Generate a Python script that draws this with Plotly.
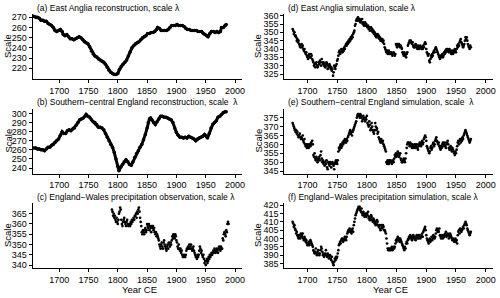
import plotly.graph_objects as go

# ---------------- data ----------------
# (a) East Anglia reconstruction (line)
years_a = [1656,1660,1663,1666,1669,1672,1675,1678,1681,1684,1687,1690,1693,1696,1699,1702,1705,1707,1710,1713,1716,1719,1722,1725,1728,1731,1734,1737,1740,1743,1746,1749,1752,1755,1758,1761,1764,1767,1770,1773,1776,1779,1782,1785,1788,1791,1794,1797,1800,1803,1806,1809,1812,1815,1818,1821,1824,1827,1830,1833,1836,1839,1842,1845,1848,1851,1854,1857,1860,1863,1866,1868,1871,1874,1877,1880,1883,1886,1889,1892,1895,1898,1901,1904,1907,1910,1913,1916,1919,1922,1925,1928,1931,1934,1937,1940,1943,1946,1949,1952,1954,1957,1960,1963,1966,1969,1972,1975,1977,1980,1983,1985]
vals_a = [271,270,270,269,267,267,266,266,264,263,262,260,257,256,257,258,256,253,252,253,251,249,249,248,249,250,251,250,248,246,245,244,241,237,234,232,231,229,228,227,226,224,221,218,216,215,214,214,215,219,222,224,226,228,232,236,240,242,244,245,246,248,250,251,252,254,254,255,255,256,258,260,259,257,257,257,257,258,260,262,262,262,263,262,262,262,261,259,258,258,257,257,257,257,256,256,256,254,253,252,251,254,256,256,255,256,255,256,260,260,262,263]

# (b) Southern-central England reconstruction (line)
years_b = [1656,1660,1663,1666,1669,1672,1675,1678,1681,1684,1687,1690,1693,1696,1699,1702,1705,1708,1711,1714,1717,1720,1723,1726,1729,1732,1735,1738,1741,1744,1746,1749,1752,1755,1758,1761,1764,1767,1770,1773,1776,1779,1782,1785,1788,1791,1794,1797,1800,1802,1805,1808,1811,1814,1817,1820,1823,1826,1829,1832,1835,1838,1841,1844,1847,1850,1852,1854,1856,1858,1861,1864,1867,1870,1873,1876,1879,1882,1885,1888,1891,1894,1897,1900,1903,1906,1909,1912,1915,1918,1921,1924,1927,1930,1933,1936,1939,1942,1945,1948,1951,1953,1956,1959,1962,1965,1968,1971,1974,1977,1980,1983,1985]
vals_b = [262,262,261,261,260,260,259,261,263,263,265,266,268,270,272,276,280,278,278,281,282,281,283,284,287,290,293,294,295,297,299,297,296,293,291,290,288,285,285,284,282,278,274,270,266,263,257,250,242,237,241,244,247,249,247,244,243,247,252,256,259,263,266,271,277,284,290,294,295,293,290,288,291,294,297,297,296,296,295,294,293,290,284,279,276,274,274,273,274,273,275,274,273,272,270,272,273,274,275,277,275,273,278,284,288,290,292,296,297,299,301,302,302]

# (c) England-Wales precipitation observation, annual 1790-1989
start_c = 1790
vals_c = [367,366,364,365,363,364,362,361,363,361,
          360,362,365,366,368,367,362,360,359,361,
          362,363,361,360,359,361,362,360,359,360,
          360,359,361,360,362,361,362,363,362,364,
          364,365,363,366,365,367,368,366,363,361,
          359,356,355,357,356,355,357,358,356,357,
          360,359,358,360,357,359,358,356,359,358,
          359,357,358,356,355,356,354,355,354,353,
          352,350,349,348,350,351,349,348,351,352,
          350,349,348,347,349,350,348,351,350,349,
          351,350,352,354,353,355,354,353,355,354,
          352,351,349,348,350,348,347,348,346,347,
          345,344,344,345,344,344,345,347,348,348,
          349,348,350,348,349,350,348,347,348,349,
          347,346,345,344,344,343,345,344,345,347,
          349,348,346,347,345,344,345,343,341,342,
          340,342,343,341,342,344,343,345,344,345,
          346,345,346,347,346,348,347,346,347,348,
          347,346,348,349,348,347,349,348,348,353,
          352,355,356,355,354,357,356,360,361,360]

# (d) East Anglia simulation, annual 1675-1975
start_sim = 1675
vals_d = [352,351,349,350,348,
          348,347,345,346,344,345,343,342,341,342,
          343,341,342,340,339,340,338,337,338,336,
          335,334,336,337,335,335,337,336,334,333,
          332,330,331,329,331,332,330,329,330,332,
          331,333,332,330,334,332,331,332,330,331,
          329,330,332,331,328,330,329,331,330,328,
          329,327,328,324,326,330,329,328,330,331,
          333,334,336,338,339,337,338,340,339,338,
          340,339,341,340,342,343,342,344,343,345,
          344,346,345,347,346,348,347,349,350,351,
          354,355,357,358,357,359,358,357,358,356,
          357,356,358,355,356,354,355,356,354,355,
          354,353,354,352,353,351,352,353,351,352,
          350,351,349,350,348,349,347,348,349,347,
          348,346,347,345,346,345,346,344,345,343,
          341,340,339,338,339,337,338,339,337,338,
          337,338,337,336,337,338,337,336,337,343,
          342,341,343,342,343,342,341,342,341,340,
          338,337,336,338,337,336,335,337,338,342,
          343,344,345,344,345,344,343,344,342,341,
          342,341,343,342,341,340,342,341,340,341,
          342,341,340,341,340,342,341,343,344,343,
          340,338,337,336,337,333,332,334,336,335,
          337,336,338,339,338,340,341,340,339,338,
          337,336,335,334,336,335,336,337,335,336,
          338,337,339,338,340,339,340,339,338,340,
          339,338,337,339,338,337,339,338,340,339,
          338,340,342,341,343,342,344,345,346,344,
          343,342,341,342,343,345,347,346,347,345,
          343,342,341,340,342,341]

# (e) Southern-central England simulation, annual 1675-1975
vals_e = [372,371,370,369,368,
          367,368,366,367,365,364,365,366,364,363,
          364,363,365,362,361,363,360,359,360,358,
          359,360,358,359,360,359,361,360,362,360,
          354,353,355,352,351,353,352,350,351,352,
          353,351,354,356,352,350,351,349,350,348,
          350,349,351,347,346,350,349,348,350,349,
          347,349,350,349,348,346,349,350,351,350,
          349,351,356,358,357,359,360,358,359,361,
          360,362,361,363,362,361,363,362,364,365,
          366,367,368,366,367,365,367,368,369,370,
          371,372,373,375,376,377,377,376,375,377,
          376,375,373,374,376,375,374,373,375,374,
          376,372,371,370,373,371,368,369,372,370,
          368,367,366,368,372,370,368,369,366,367,
          364,363,362,361,363,362,361,362,360,359,
          358,357,356,350,349,351,350,349,351,350,
          351,350,349,350,351,350,352,354,353,355,
          353,354,356,355,353,354,355,352,351,350,
          350,351,352,351,350,352,355,358,360,361,
          361,360,359,361,360,359,358,360,359,358,
          359,360,358,359,360,358,357,359,360,361,
          360,359,361,362,360,361,363,364,365,364,
          362,359,358,357,356,355,356,358,359,357,
          358,360,361,359,360,362,363,364,362,361,
          360,361,359,358,357,359,358,360,361,359,
          360,361,359,358,360,361,362,360,358,357,
          358,359,357,356,358,357,356,355,354,356,
          355,357,359,361,362,360,362,363,361,363,
          362,364,363,365,366,367,368,367,366,365,
          364,363,362,361,362,363]

# (f) England-Wales precipitation simulation, annual 1675-1975
vals_f = [410,409,407,408,406,
          405,403,404,402,401,400,402,401,400,403,
          402,401,403,400,399,401,400,398,399,397,
          396,397,398,396,397,399,398,397,396,395,
          393,392,391,392,394,391,390,392,393,391,
          390,391,393,395,394,392,390,391,389,390,
          391,393,390,389,391,390,388,389,390,388,
          387,389,386,385,384,386,388,387,389,388,
          389,391,393,396,397,398,397,399,400,399,
          398,400,399,401,400,399,401,403,404,405,
          404,406,405,404,403,405,406,404,408,410,
          412,414,415,416,417,418,419,418,419,417,
          416,418,415,414,416,415,413,414,415,413,
          415,414,416,412,413,411,412,414,413,411,
          410,412,411,409,410,408,409,411,410,408,
          407,408,406,405,408,407,406,408,407,405,
          405,404,403,400,397,394,393,394,393,394,
          393,394,395,393,394,395,394,395,397,399,
          398,400,401,399,400,398,400,399,398,397,
          396,395,394,393,395,394,397,398,397,399,
          400,401,400,402,401,400,399,401,402,400,
          401,400,399,401,402,400,401,400,402,401,
          400,401,402,403,401,404,405,406,407,405,
          402,400,399,398,397,399,400,398,399,401,
          399,400,402,401,400,401,403,405,406,404,
          405,404,406,402,401,400,402,401,400,402,
          401,402,403,404,401,402,403,402,400,401,
          403,402,401,400,399,400,399,398,399,400,
          398,399,397,402,404,405,403,406,405,404,
          405,406,407,406,408,409,410,409,408,406,
          405,404,403,402,403,404]

titles = ["(a) East Anglia reconstruction, scale \u03bb",
          "(b) Southern\u2212central England reconstruction, scale  \u03bb",
          "(c) England\u2212Wales precipitation observation, scale \u03bb",
          "(d) East Anglia simulation, scale \u03bb",
          "(e) Southern\u2212central England simulation, scale  \u03bb",
          "(f) England\u2212Wales precipitation simulation, scale \u03bb"]
x_ticks = [1700, 1750, 1800, 1850, 1900, 1950, 2000]
y_ticks_a = [220, 230, 240, 250, 260, 270]
y_ticks_b = [240, 250, 260, 270, 280, 290, 300]
y_ticks_c = [340, 345, 350, 355, 360, 365]
y_ticks_d = [325, 330, 335, 340, 345, 350, 355, 360]
y_ticks_e = [345, 350, 355, 360, 365, 370, 375]
y_ticks_f = [385, 390, 395, 400, 405, 410, 415, 420]

# ---------------- layout geometry ----------------
W, H = 500, 298
FONT = "Liberation Sans, Arial, sans-serif"

def px_x(p):
    return p / W

def px_y(p):
    return 1 - p / H

col_px = [(32.5, 242.3), (284.3, 493.3)]
col_xrange = [[1654.5, 2012.4], [1661.0, 2012.8]]
row_px = [(14, 79), (108.5, 173.5), (203, 268)]
yranges = [[209.5, 273.2], [234.0, 305.5], [338.6, 370.2],
           [322.0, 361.0], [343.6, 380.2], [382.3, 421.3]]
yticks = [y_ticks_a, y_ticks_b, y_ticks_c, y_ticks_d, y_ticks_e, y_ticks_f]

sim_years = list(range(start_sim, start_sim + len(vals_d)))
obs_years = list(range(start_c, start_c + len(vals_c)))

series = [
    (years_a, vals_a, "line"),
    (years_b, vals_b, "line"),
    (obs_years, vals_c, "pts"),
    (sim_years, vals_d, "pts"),
    (sim_years, vals_e, "pts"),
    (sim_years, vals_f, "pts"),
]

fig = go.Figure()
layout = dict(width=W, height=H, margin=dict(l=0, r=0, t=0, b=0, pad=0),
              paper_bgcolor="white", plot_bgcolor="white", showlegend=False,
              font=dict(family=FONT, size=9, color="black"))
annotations = []

for i in range(6):
    col = 0 if i < 3 else 1
    row = i % 3
    n = i + 1
    xs, ys, kind = series[i]
    xa = "x" if n == 1 else f"x{n}"
    ya = "y" if n == 1 else f"y{n}"
    if kind == "line":
        fig.add_trace(go.Scatter(x=xs, y=ys, mode="lines+markers", xaxis=xa, yaxis=ya,
                                 line=dict(color="black", width=3),
                                 marker=dict(color="black", size=3.5), hoverinfo="skip"))
    else:
        fig.add_trace(go.Scatter(x=xs, y=ys, mode="markers", xaxis=xa, yaxis=ya,
                                 marker=dict(color="black", size=2.7, line=dict(width=0)),
                                 hoverinfo="skip"))
    x0, x1 = col_px[col]
    t, b = row_px[row]
    axis_common = dict(showgrid=False, zeroline=False, showline=True, linecolor="black",
                       linewidth=1, ticks="outside", ticklen=3, tickwidth=1, tickcolor="black",
                       automargin=False,
                       tickfont=dict(family=FONT, size=9, color="black"))
    layout["xaxis" if n == 1 else f"xaxis{n}"] = dict(
        domain=[px_x(x0), px_x(x1)], range=col_xrange[col], anchor=ya,
        tickvals=x_ticks, ticktext=[str(v) for v in x_ticks], **axis_common)
    layout["yaxis" if n == 1 else f"yaxis{n}"] = dict(
        domain=[px_y(b), px_y(t)], range=yranges[i], anchor=xa,
        tickvals=yticks[i], ticktext=[str(v) for v in yticks[i]], **axis_common)
    # panel title
    annotations.append(dict(text=titles[i], x=px_x(x0 + 2), y=px_y(t - 6.5), xref="paper", yref="paper",
                            xanchor="left", yanchor="middle", showarrow=False,
                            font=dict(family=FONT, size=8.5, color="black")))
    # y-axis title
    annotations.append(dict(text="Scale", x=px_x(7.5 if col == 0 else 257.5), y=px_y((t + b) / 2),
                            xref="paper", yref="paper", xanchor="center", yanchor="middle",
                            textangle=-90, showarrow=False,
                            font=dict(family=FONT, size=9.5, color="black")))

for cx in (139.5, 390):
    annotations.append(dict(text="Year CE", x=px_x(cx), y=px_y(289), xref="paper", yref="paper",
                            xanchor="center", yanchor="middle", showarrow=False,
                            font=dict(family=FONT, size=9.5, color="black")))

layout["annotations"] = annotations
fig.update_layout(**layout)
fig.write_html("out.html", config={"displayModeBar": False},
               post_script="document.body.style.margin='0px';document.body.style.padding='0px';")
